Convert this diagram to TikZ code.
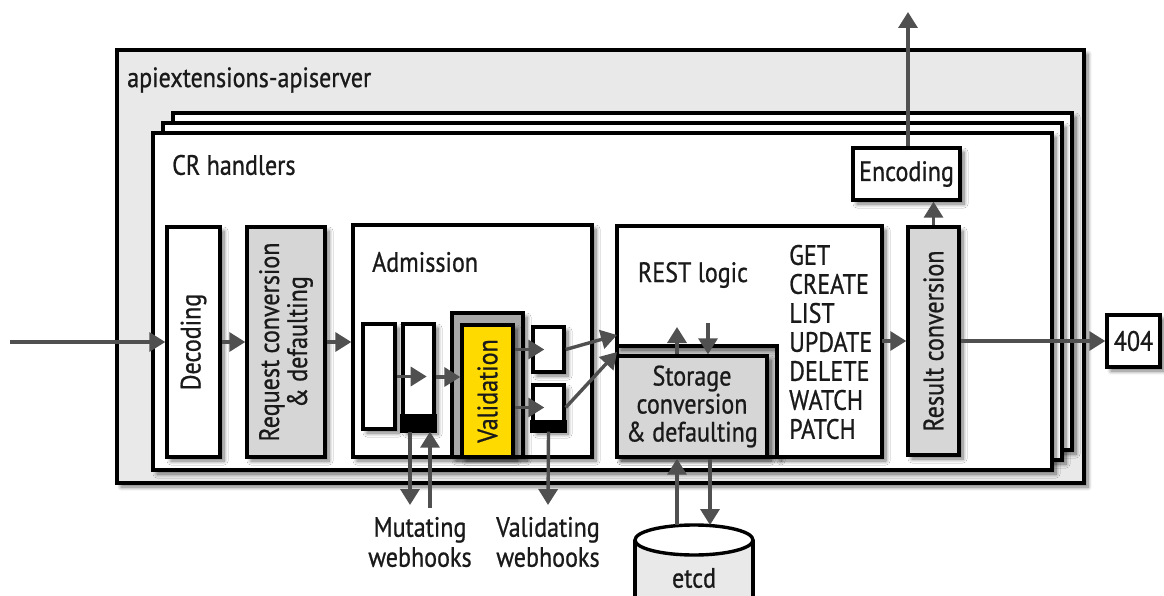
\documentclass[tikz,border=0pt]{standalone}
\usepackage{fontspec}
\setmainfont{PT Sans}[FakeStretch=0.86,FakeBold=0.8]
\usetikzlibrary{arrows.meta,positioning,calc,shadows.blur}
\definecolor{apigray}{HTML}{E9E9E9}
\definecolor{boxgray}{HTML}{D6D6D6}
\definecolor{framegray}{HTML}{A8A8A8}
\definecolor{bandgray}{HTML}{C4C4C4}
\definecolor{arrowgray}{HTML}{505050}
\definecolor{textgray}{HTML}{1A1A1A}
\definecolor{valyellow}{HTML}{FFDA00}
\tikzset{
  shad/.style={blur shadow={shadow xshift=4pt,shadow yshift=-4pt,shadow blur steps=8,shadow blur radius=4pt,shadow opacity=55}},
  blk/.style={draw=black,line width=3.4pt,inner sep=0pt,shad},
  wbox/.style={blk,fill=white},
  gbox/.style={blk,fill=boxgray},
  flow/.style={draw=arrowgray,line width=3.4pt,-{Triangle[length=16pt,width=19pt]}},
  lbl/.style={inner sep=0pt,text=textgray,font=\fontsize{28}{28}\selectfont}
}

\begin{document}
\begin{tikzpicture}[x=1pt,y=-1pt]
  \useasboundingbox (0,0) rectangle (1164,596);
  \clip (0,0) rectangle (1164,596);
  % apiextensions-apiserver
  \node[blk,fill=apigray,minimum width=967pt,minimum height=433pt] (srv) at (600.5,266.5) {};
  \node[lbl,anchor=west] (srvlbl) at (127,80) {apiextensions-apiserver};
  % CR handlers, stacked
  \node[wbox,minimum width=899pt,minimum height=337pt] (crh3) at (622.5,281.5) {};
  \node[wbox,minimum width=899pt,minimum height=337pt] (crh2) at (612.5,291.5) {};
  \node[wbox,minimum width=899pt,minimum height=337pt] (crh) at (602.5,301.5) {};
  \node[lbl,anchor=west] (crhlbl) at (172,165) {CR handlers};
  % decoding and request conversion
  \node[wbox,minimum width=53pt,minimum height=230pt] (dec) at (193.5,342) {};
  \node[lbl,rotate=90] (dectxt) at (dec) {Decoding};
  \node[gbox,minimum width=78pt,minimum height=230pt] (req) at (286,342) {};
  \node[lbl,rotate=90,align=center] (reqtxt) at (req) {Request conversion\\\& defaulting};
  % admission
  \node[wbox,minimum width=239pt,minimum height=232pt] (adm) at (472.5,341) {};
  \node[lbl,anchor=west] (admlbl) at (372,262) {Admission};
  \node[wbox,minimum width=32pt,minimum height=105pt] (mut1) at (379,376.5) {};
  \node[wbox,minimum width=31pt,minimum height=106pt] (mut2) at (418.5,377) {};
  \fill ($(mut2.south west)+(-1.7,1.7)$) rectangle ($(mut2.south east)+(1.7,-18)$);
  \node[blk,fill=framegray,minimum width=71pt,minimum height=144pt] (valfr) at (487.5,385) {};
  \node[blk,fill=valyellow,minimum width=51pt,minimum height=132pt] (val) at (487.5,391) {};
  \node[lbl,rotate=90] (valtxt) at (val) {Validation};
  \node[wbox,minimum width=31pt,minimum height=45pt] (val1) at (548.5,349.5) {};
  \node[wbox,minimum width=31pt,minimum height=45pt] (val2) at (548.5,407.5) {};
  \fill ($(val2.south west)+(-1.7,1.7)$) rectangle ($(val2.south east)+(1.7,-12)$);
  % REST logic
  \draw[blk,fill=bandgray] (617,346) rectangle (777,457);
  \draw[blk,fill=white] (617,226) -- (882,226) -- (882,457) -- (777,457) -- (777,346) -- (617,346) -- cycle;
  \node[gbox,minimum width=150pt,minimum height=101pt,align=center,text=textgray,
        font=\fontsize{28}{28}\selectfont] (st) at (692,406.5) {Storage\\conversion\\\& defaulting};
  \node[lbl] (restlbl) at (693,275) {REST logic};
  \node[lbl,anchor=west,align=left,font=\fontsize{28}{29}\selectfont] (verbs) at (789,342)
    {GET\\CREATE\\LIST\\UPDATE\\DELETE\\WATCH\\PATCH};
  % result and encoding
  \node[gbox,minimum width=51pt,minimum height=228pt] (res) at (933.5,341) {};
  \node[lbl,rotate=90] (restxt) at (res) {Result conversion};
  \node[wbox,minimum width=107pt,minimum height=52pt] (enc) at (906.5,174) {};
  \node[lbl] (enctxt) at (enc) {Encoding};
  \node[wbox,minimum width=53pt,minimum height=52pt] (nf) at (1133.5,341) {};
  \node[lbl] (nftxt) at (nf) {404};
  % etcd
  \draw[line width=3.4pt,fill=apigray] (635,540) -- (635,620) -- (753,620) -- (753,540);
  \draw[line width=3.4pt,fill=white] (694,540) ellipse (59 and 15);
  \node[lbl] (etcd) at (694,578) {etcd};
  % webhooks
  \node[lbl,align=center,font=\fontsize{28}{30}\selectfont] (mwh) at (420,542) {Mutating\\webhooks};
  \node[lbl,align=center,font=\fontsize{28}{30}\selectfont] (vwh) at (548,542) {Validating\\webhooks};

  % edges
  \coordinate (in) at (10,342);
  \draw[flow] (in) -- (dec.west);
  \draw[flow] (dec.east) -- (req.west);
  \draw[flow] (req.east) -- (req.east -| adm.west);
  % admission
  \draw[flow] (mut1.east) -- ($(mut1.east)+(30,0)$);
  \draw[flow] (mut2.east) -- (mut2.east -| val.west);
  \draw[flow] (val.east |- val1.west) -- ($(val1.west)+(13,0)$);
  \draw[flow] (val.east |- val2.west) -- ($(val2.west)+(13,0)$);
  \coordinate (restin1) at (617,335);
  \coordinate (restin2) at (617,352);
  \draw[flow] (val1.east) -- (restin1);
  \draw[flow] (val2.east) -- (restin2);
  % webhooks
  \coordinate (mutD) at (410,505);
  \coordinate (mutU) at (430,508);
  \coordinate (valD) at (548,505);
  \draw[flow] (mutD |- mut2.south) -- (mutD);
  \draw[flow] (mutU) -- (mutU |- mut2.south);
  \draw[flow] (val2.south) -- (valD);
  % storage
  \coordinate (stU) at (677,327);
  \coordinate (stD) at (708,323);
  \draw[flow] (stU |- st.north) -- (stU);
  \draw[flow] (stD) -- (stD |- st.north);
  \coordinate (etcdU) at (677,525);
  \coordinate (etcdD) at (710,525);
  \draw[flow] (etcdU) -- (etcdU |- st.south);
  \draw[flow] (etcdD |- st.south) -- (etcdD);
  % result
  \coordinate (restout) at (882,341);
  \draw[flow] (restout) -- (restout -| res.west);
  \draw[flow] (res.north) -- (res.north |- enc.south);
  \coordinate (outtop) at (908,12);
  \draw[flow] (outtop |- enc.north) -- (outtop);
  \draw[flow] (res.east) -- (nf.west);
\end{tikzpicture}
\end{document}
